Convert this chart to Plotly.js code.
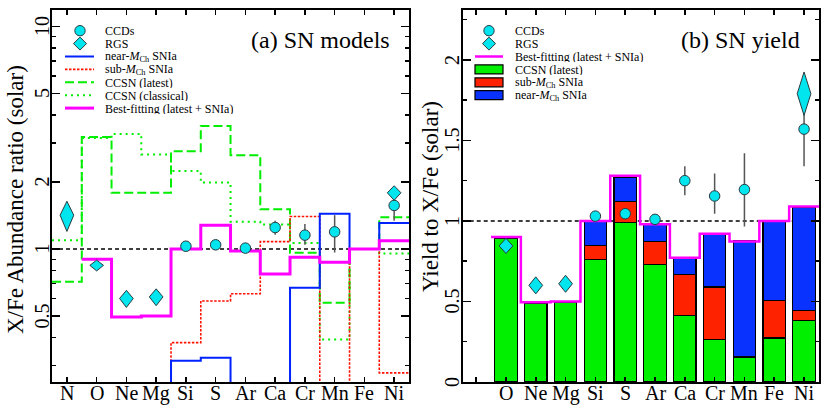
<!DOCTYPE html>
<html><head><meta charset="utf-8">
<script src="https://cdn.plot.ly/plotly-3.0.1.min.js"></script>
<style>html,body{margin:0;padding:0;background:#fff}#chart{width:830px;height:415px}</style>
</head><body><div id="chart"></div>
<script>
// ---------- data ----------
const elements = ['N','O','Ne','Mg','Si','S','Ar','Ca','Cr','Mn','Fe','Ni'];

// Panel (a): model X/Fe ratios (solar); values of 0.05 lie below the plotted range
const nearMch       = [0.05, 0.05, 0.05, 0.05, 0.315, 0.325, 0.05, 0.05, 0.67, 1.44, 1.00, 1.31];
const subMch        = [0.05, 0.05, 0.05, 0.05, 0.38, 0.585, 0.63, 1.08, 1.40, 0.05, 1.00, 0.278];
const ccsnLatest    = [0.713, 3.19, 1.79, 1.79, 2.75, 3.57, 2.64, 1.51, 0.962, 0.574, 1.00, 1.388];
const ccsnClassical = [1.095, 3.15, 3.29, 2.66, 2.24, 1.99, 1.326, 1.29, 1.065, 0.393, 1.00, 0.956];

// Best fitting (latest + SNIa)
const bestElements = ['O','Ne','Mg','Si','S','Ar','Ca','Cr','Mn','Fe','Ni'];
const bestFit      = [0.90, 0.495, 0.50, 1.00, 1.28, 0.98, 0.772, 0.92, 0.872, 1.00, 1.09];

// Observations
const ccdElements = ['Si','S','Ar','Ca','Cr','Mn','Ni'];
const ccdValues   = [1.03, 1.045, 1.01, 1.25, 1.155, 1.195, 1.57];
const ccdErrPlus  = [0.02, 0.02, 0.02, 0.09, 0.14, 0.225, 0.23];
const ccdErrMinus = [0.02, 0.02, 0.02, 0.09, 0.11, 0.23, 0.23];
const rgsElements = ['N','O','Ne','Mg','Ni'];
const rgsValues   = [1.42, 0.845, 0.60, 0.61, 1.79];
const rgsErr      = [0.22, 0.047, 0.053, 0.053, 0.135];

// Panel (b): yield contributions
const yieldElements = ['O','Ne','Mg','Si','S','Ar','Ca','Cr','Mn','Fe','Ni'];
const yieldCcsn = [0.89, 0.487, 0.493, 0.762, 0.988, 0.729, 0.414, 0.263, 0.155, 0.273, 0.383];
const yieldSub  = [0, 0, 0, 0.087, 0.134, 0.143, 0.253, 0.327, 0.005, 0.234, 0.06];
const yieldNear = [0, 0, 0, 0.151, 0.151, 0.108, 0.106, 0.327, 0.715, 0.493, 0.644];

// Tick labels
const yTicksA = [0.5, 1, 2, 5, 10];
const yTicksB = [0, 0.5, 1, 1.5, 2];
const xLabelsA = elements;
const xLabelsB = yieldElements;

// Titles
const titleA = 'X/Fe Abundance ratio (solar)';
const titleB = 'Yield to X/Fe (solar)';

// Legend labels
const legendA = ['CCDs','RGS','near-<i>M</i><sub>Ch</sub> SNIa','sub-<i>M</i><sub>Ch</sub> SNIa','CCSN (latest)','CCSN (classical)','Best-fitting (latest + SNIa)'];
const legendB = ['CCDs','RGS','Best-fitting (latest + SNIa)','CCSN (latest)','sub-<i>M</i><sub>Ch</sub> SNIa','near-<i>M</i><sub>Ch</sub> SNIa'];

// ---------- styles ----------
const W = 830, H = 415;
const SERIF = '"Liberation Serif", "Times New Roman", Times, serif';
const CYAN = '#00E5EE', OUT = '#2b3b40';
const C_BLUE = '#0022FF', C_RED = '#FF1100', C_GREEN = '#00EE00', C_MAG = '#FF00FF';
const BAR_G = '#00F000', BAR_R = '#FF2200', BAR_B = '#0A32FF';
const styles = {
  near: {color: C_BLUE, width: 2, dash: 'solid'},
  sub: {color: C_RED, width: 1.6, dash: '2.5px,1.5px'},
  latest: {color: C_GREEN, width: 2, dash: '9px,4px'},
  classical: {color: C_GREEN, width: 2, dash: '2px,4px'},
  best: {color: C_MAG, width: 3, dash: 'solid'}
};

const idx = e => elements.indexOf(e);
function step(names, vals) {
  const x = [], y = [];
  names.forEach((n, k) => { x.push(idx(n) - 0.5); y.push(vals[k]); });
  x.push(idx(names[names.length - 1]) + 0.5); y.push(vals[vals.length - 1]);
  return {x, y};
}
function diamonds(names, vals, errs, hw) {
  const x = [], y = [];
  names.forEach((n, k) => {
    const c = idx(n), v = vals[k], e = errs[k];
    x.push(c - hw, c, c + hw, c, c - hw, null);
    y.push(v, v + e, v, v - e, v, null);
  });
  return {x, y};
}
function stepTrace(names, vals, st, xa, ya) {
  const s = step(names, vals);
  return {type: 'scatter', mode: 'lines', x: s.x, y: s.y, xaxis: xa, yaxis: ya,
    line: {shape: 'hv', color: st.color, width: st.width, dash: st.dash}, hoverinfo: 'skip', showlegend: false};
}
function ccdTrace(xa, ya) {
  return {type: 'scatter', mode: 'markers', x: ccdElements.map(idx), y: ccdValues, xaxis: xa, yaxis: ya,
    marker: {symbol: 'circle', size: 10.5, color: CYAN, line: {color: OUT, width: 1}},
    error_y: {type: 'data', array: ccdErrPlus, arrayminus: ccdErrMinus, color: '#555', thickness: 1.5, width: 0},
    showlegend: false};
}
function rgsTrace(names, vals, errs, xa, ya) {
  const d = diamonds(names, vals, errs, 0.23);
  return {type: 'scatter', mode: 'lines', x: d.x, y: d.y, xaxis: xa, yaxis: ya, fill: 'toself',
    fillcolor: CYAN, line: {color: OUT, width: 1}, showlegend: false, hoverinfo: 'skip'};
}

const rgsB = rgsElements.map((e, k) => k).filter(k => rgsElements[k] !== 'N');

const data = [
  stepTrace(elements, ccsnClassical, styles.classical, 'x', 'y'),
  stepTrace(elements, ccsnLatest, styles.latest, 'x', 'y'),
  stepTrace(elements, subMch, styles.sub, 'x', 'y'),
  stepTrace(elements, nearMch, styles.near, 'x', 'y'),
  stepTrace(bestElements, bestFit, styles.best, 'x', 'y'),
  ccdTrace('x', 'y'),
  rgsTrace(rgsElements, rgsValues, rgsErr, 'x', 'y'),
  // panel b
  {type: 'bar', x: yieldElements.map(idx), y: yieldCcsn, xaxis: 'x2', yaxis: 'y2', width: 0.75,
    marker: {color: BAR_G, line: {color: '#000', width: 1.2}}, showlegend: false},
  {type: 'bar', x: yieldElements.map(idx), y: yieldSub, xaxis: 'x2', yaxis: 'y2', width: 0.75,
    marker: {color: BAR_R, line: {color: '#000', width: 1.2}}, showlegend: false},
  {type: 'bar', x: yieldElements.map(idx), y: yieldNear, xaxis: 'x2', yaxis: 'y2', width: 0.75,
    marker: {color: BAR_B, line: {color: '#000', width: 1.2}}, showlegend: false},
  stepTrace(bestElements, bestFit, {color: C_MAG, width: 2.5, dash: 'solid'}, 'x2', 'y2'),
  ccdTrace('x2', 'y2'),
  rgsTrace(rgsB.map(k => rgsElements[k]), rgsB.map(k => rgsValues[k]), rgsB.map(k => rgsErr[k]), 'x2', 'y2')
];

// ---------- layout ----------
const frame = {showline: true, linecolor: '#000', linewidth: 2, mirror: 'allticks', ticks: 'inside',
  tickcolor: '#000', tickwidth: 1.5, showgrid: false, zeroline: false, fixedrange: true, showticklabels: false};
const px = v => v / W, py = v => 1 - v / H;

const shapes = [
  {type: 'line', xref: 'x domain', x0: 0, x1: 1, yref: 'y', y0: 1, y1: 1, layer: 'below', line: {color: '#000', width: 1.5, dash: '4px,3px'}},
  {type: 'line', xref: 'x2 domain', x0: 0, x1: 1, yref: 'y2', y0: 1, y1: 1, layer: 'below', line: {color: '#000', width: 1.5, dash: '4px,3px'}}
];
const annotations = [];
function ann(o, size) {
  annotations.push(Object.assign({showarrow: false, font: {family: SERIF, size: size, color: '#000'}}, o));
}
// panel labels
ann({xref: 'paper', yref: 'paper', x: px(392), y: py(40), xanchor: 'right', yanchor: 'middle', text: '(a) SN models'}, 24);
ann({xref: 'paper', yref: 'paper', x: px(802), y: py(40), xanchor: 'right', yanchor: 'middle', text: '(b) SN yield'}, 24);
// axis titles
ann({xref: 'paper', yref: 'paper', x: px(15), y: py(200), xanchor: 'center', yanchor: 'middle', textangle: -90, text: titleA}, 23);
ann({xref: 'paper', yref: 'paper', x: px(430), y: py(197), xanchor: 'center', yanchor: 'middle', textangle: -90, text: titleB}, 23);
// y tick labels
yTicksA.forEach(v => ann({xref: 'paper', yref: 'y', x: px(42.5), y: Math.log10(v), xanchor: 'center', yanchor: 'middle', textangle: -90, text: String(v)}, 20));
yTicksB.forEach(v => ann({xref: 'paper', yref: 'y2', x: px(452), y: v, xanchor: 'center', yanchor: 'middle', textangle: -90, text: String(v)}, 20));
// x tick labels
xLabelsA.forEach(e => ann({xref: 'x', yref: 'paper', x: idx(e), y: py(393), xanchor: 'center', yanchor: 'middle', text: e}, 20));
xLabelsB.forEach(e => ann({xref: 'x2', yref: 'paper', x: idx(e), y: py(393), xanchor: 'center', yanchor: 'middle', text: e}, 20));

function legendCircle(cx, cy) {
  shapes.push({type: 'circle', xref: 'paper', yref: 'paper', x0: px(cx - 5.2), x1: px(cx + 5.2), y0: py(cy + 5.2), y1: py(cy - 5.2),
    fillcolor: CYAN, line: {color: OUT, width: 1}});
}
function legendDiamond(cx, cy) {
  const h = 6.5;
  shapes.push({type: 'path', xref: 'paper', yref: 'paper',
    path: `M ${px(cx - h)} ${py(cy)} L ${px(cx)} ${py(cy - h)} L ${px(cx + h)} ${py(cy)} L ${px(cx)} ${py(cy + h)} Z`,
    fillcolor: CYAN, line: {color: OUT, width: 1}});
}
function legendLine(x0, x1, cy, st) {
  shapes.push({type: 'line', xref: 'paper', yref: 'paper', x0: px(x0), x1: px(x1), y0: py(cy), y1: py(cy),
    line: {color: st.color, width: st.width, dash: st.dash}});
}
function legendBox(x0, x1, cy, color) {
  shapes.push({type: 'rect', xref: 'paper', yref: 'paper', x0: px(x0), x1: px(x1), y0: py(cy + 4.5), y1: py(cy - 4.5),
    fillcolor: color, line: {color: '#000', width: 1.2}});
}
function legendText(x, cy, t) {
  ann({xref: 'paper', yref: 'paper', x: px(x), y: py(cy), xanchor: 'left', yanchor: 'middle', height: 11, borderpad: 0, text: t}, 12);
}

// legend (a)
const aStyles = [null, null, styles.near, styles.sub, styles.latest, styles.classical, styles.best];
legendA.forEach((t, k) => {
  const cy = 30.7 + k * 12.9;
  if (k === 0) legendCircle(80, cy);
  else if (k === 1) legendDiamond(80, cy);
  else legendLine(65, 94, cy, aStyles[k]);
  legendText(104, cy, t);
});
// legend (b)
const bBoxes = [null, null, null, BAR_G, BAR_R, BAR_B];
legendB.forEach((t, k) => {
  const cy = 30.7 + k * 12.9;
  if (k === 0) legendCircle(489, cy);
  else if (k === 1) legendDiamond(489, cy);
  else if (k === 2) legendLine(475, 503, cy, {color: C_MAG, width: 2.5, dash: 'solid'});
  else legendBox(475, 503, cy, bBoxes[k]);
  legendText(514, cy, t);
});

const layout = {
  width: W, height: H, autosize: false, margin: {l: 0, r: 0, t: 0, b: 0},
  paper_bgcolor: '#fff', plot_bgcolor: '#fff', showlegend: false, barmode: 'stack',
  font: {family: SERIF, color: '#000'},
  xaxis: Object.assign({}, frame, {domain: [0.0627, 0.4928], range: [-0.5, 11.5], anchor: 'y',
    tickmode: 'array', tickvals: elements.map((e, k) => k), ticklen: 5}),
  yaxis: Object.assign({}, frame, {domain: [0.0795, 0.976], type: 'log', range: [Math.log10(0.253), Math.log10(11.85)], anchor: 'x',
    tickmode: 'array', tickvals: yTicksA, ticklen: 8,
    minor: {tickmode: 'array', tickvals: [0.3, 0.4, 0.6, 0.7, 0.8, 0.9, 3, 4, 6, 7, 8, 9], ticklen: 4, ticks: 'inside', tickcolor: '#000', tickwidth: 1.5}}),
  xaxis2: Object.assign({}, frame, {domain: [0.5575, 0.9867], range: [-0.45, 11.5], anchor: 'y2',
    tickmode: 'array', tickvals: elements.map((e, k) => k), ticklen: 5}),
  yaxis2: Object.assign({}, frame, {domain: [0.0795, 0.976], range: [0, 2.31], anchor: 'x2',
    tickmode: 'array', tickvals: yTicksB, ticklen: 8,
    minor: {dtick: 0.25, tick0: 0, ticklen: 4, ticks: 'inside', tickcolor: '#000', tickwidth: 1.5}}),
  shapes, annotations
};

Plotly.newPlot('chart', data, layout, {staticPlot: true, displayModeBar: false});
</script>
</body></html>
